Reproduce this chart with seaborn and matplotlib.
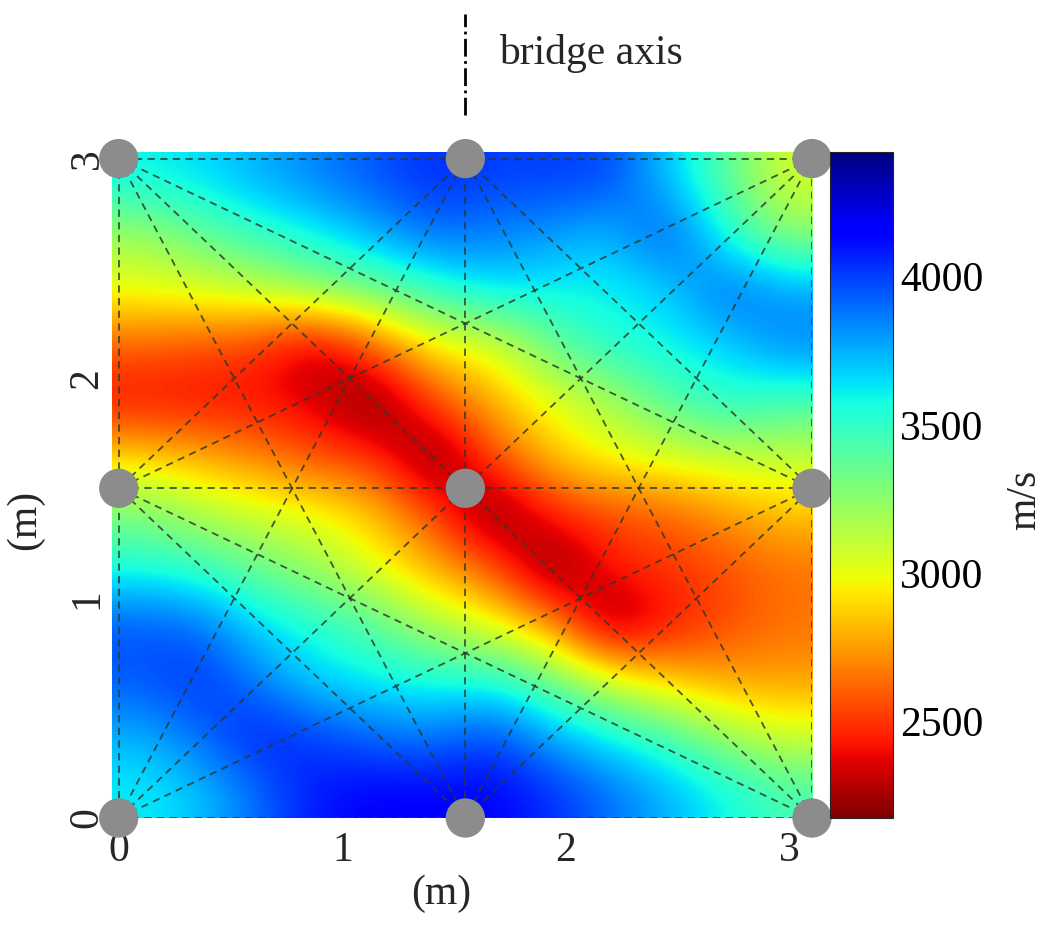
import matplotlib
matplotlib.use("Agg")
import matplotlib.pyplot as plt
import numpy as np
import seaborn as sns

# velocity, cell centres on a 12 x 12 grid (top row first), m/s
row_y2875 = [3600, 3650, 3750, 3850, 3950, 4050, 4000, 4000, 4000, 3700, 3400, 3050]
row_y2625 = [3200, 3350, 3500, 3600, 3750, 3900, 3850, 3800, 3700, 4000, 3550, 3250]
row_y2375 = [3000, 3050, 3100, 3250, 3350, 3500, 3650, 3600, 3600, 3650, 3950, 3800]
row_y2125 = [2600, 2550, 2500, 2250, 2600, 2950, 3000, 3350, 3550, 3600, 3650, 3850]
row_y1875 = [2400, 2400, 2400, 2350, 2100, 2550, 2800, 3000, 3150, 3400, 3550, 3450]
row_y1625 = [2900, 2800, 2700, 2550, 2500, 2100, 2550, 2850, 3000, 3050, 3100, 3100]
row_y1375 = [3300, 3150, 3050, 3000, 2850, 2550, 2100, 2450, 2550, 2600, 2750, 2850]
row_y1125 = [3550, 3500, 3350, 3200, 3000, 2800, 2600, 2100, 2450, 2500, 2550, 2650]
row_y0875 = [3950, 3900, 3650, 3550, 3400, 3150, 3000, 2750, 2150, 2400, 2550, 2650]
row_y0625 = [3950, 4050, 3850, 3650, 3600, 3550, 3550, 3350, 3050, 2850, 2750, 2750]
row_y0375 = [3750, 3900, 4100, 4000, 3900, 3850, 4000, 3750, 3600, 3450, 3200, 3050]
row_y0125 = [3600, 3700, 3900, 4100, 4150, 4150, 4150, 4050, 3900, 3750, 3600, 3450]

# sensors: bottom, middle and top rows at left / centre / right
sensor_x = [0.0, 1.55, 3.1, 0.0, 1.55, 3.1, 0.0, 1.55, 3.1]
sensor_y = [0.0, 0.0, 0.0, 1.5, 1.5, 1.5, 3.0, 3.0, 3.0]
# ray paths between sensors (index pairs)
rays = [(6, 2), (8, 0), (7, 1), (3, 5), (6, 5), (6, 1), (8, 3), (8, 1),
        (0, 7), (0, 5), (2, 7), (2, 3), (7, 3), (7, 5), (1, 3), (1, 5)]
border = [(0, 2), (2, 8), (8, 6), (6, 0)]

x_ticks = [0, 1, 2, 3]
y_ticks = [0, 1, 2, 3]
cbar_ticks = [2500, 3000, 3500, 4000]
v_min, v_max = 2175, 4420

sns.set_theme(style="white")
plt.rcParams["font.family"] = ["Liberation Serif", "DejaVu Serif"]
FS = 30

velocity = np.array([row_y2875, row_y2625, row_y2375, row_y2125, row_y1875, row_y1625,
                     row_y1375, row_y1125, row_y0875, row_y0625, row_y0375, row_y0125])

fig = plt.figure(figsize=(10.47, 9.27), dpi=100)
ax = fig.add_axes([112 / 1047, 109 / 927, 700 / 1047, 666 / 927])
cax = fig.add_axes([830 / 1047, 109 / 927, 63 / 1047, 666 / 927])

x0, x1, y0, y1 = -0.03, 3.1, 0.0, 3.03
cmap = sns.color_palette("jet_r", as_cmap=True)
im = ax.imshow(velocity, cmap=cmap, vmin=v_min, vmax=v_max, extent=(x0, x1, y0, y1),
               origin="upper", interpolation="bicubic", aspect="auto")

ray_style = dict(color="#2c3a2c", lw=1.3, ls=(0, (4, 3)), alpha=0.85, zorder=2)
for a, b in rays + border:
    ax.plot([sensor_x[a], sensor_x[b]], [sensor_y[a], sensor_y[b]], **ray_style)

sns.scatterplot(x=sensor_x, y=sensor_y, ax=ax, s=800, color="#8c8c8c",
                edgecolor="none", zorder=5, clip_on=False, legend=False)

# bridge axis marker above the plate
ax.plot([1.55, 1.55], [3.2, 3.66], color="black", lw=2, ls="-.", clip_on=False)
ax.text(1.70, 3.48, "bridge axis", fontsize=FS, va="center", ha="left")

ax.set_xlim(x0, x1)
ax.set_ylim(y0, y1)
ax.set_xticks(x_ticks)
ax.set_yticks(y_ticks)
ax.set_xticklabels([str(t) for t in x_ticks], fontsize=FS)
ax.set_yticklabels([str(t) for t in y_ticks], fontsize=FS, rotation=90, va="center")
ax.tick_params(axis="x", length=0, pad=10)
ax.tick_params(axis="y", length=0, pad=4)
ax.set_xlabel("(m)", fontsize=FS)
ax.set_ylabel("(m)", fontsize=FS)
ax.xaxis.set_label_coords(0.47, -0.085)
ax.yaxis.set_label_coords(-0.097, 0.447)
sns.despine(ax=ax, left=True, bottom=True)

cb = fig.colorbar(im, cax=cax, ticks=cbar_ticks)
cb.outline.set_linewidth(0.8)
cax.tick_params(direction="in", left=True, right=True, length=6, width=1,
                labelsize=FS, pad=5, colors="#333333", labelcolor="black")
fig.text(1025 / 1047, 1 - 500 / 927, "m/s", fontsize=FS, rotation=90,
         ha="center", va="center")

fig.savefig("out.png", dpi=100)
